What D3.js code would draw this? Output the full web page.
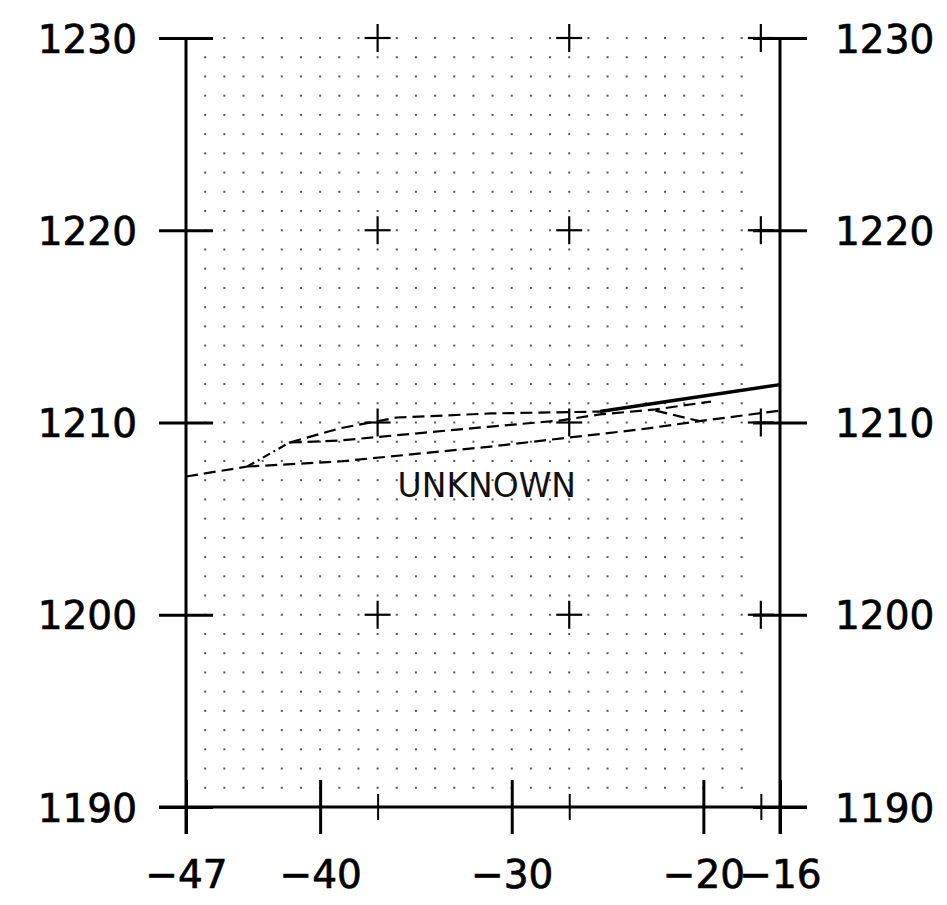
<!DOCTYPE html>
<html>
<head>
<meta charset="utf-8">
<script src="https://cdn.jsdelivr.net/npm/d3@7"></script>
<style>
  body { margin: 0; background: #fff; }
  svg { display: block; }
</style>
</head>
<body>
<div id="chart"></div>
<script>
// axis ticks
const xTicksMajor = [-47, -40, -30, -20, -16];
const xTicksMinor = [-37, -27, -17];
const yTicks = [1190, 1200, 1210, 1220, 1230];

// "+" marks inside the plot
const crossX = [-37, -27, -17];
const crossY = [1200, 1210, 1220, 1230];

// dot grid
const dotX = d3.range(-46, -17);
const dotY = d3.range(1191, 1231);

// horizon traces [x, y]
const solidLine = [[-25.4, 1210.57], [-16, 1211.97]];
const upperLine = [[-41.6, 1208.96], [-39.0, 1209.69], [-36.0, 1210.26], [-31.1, 1210.47], [-25.4, 1210.57]];
const middleLine = [[-41.6, 1208.96], [-39.0, 1209.06], [-31.1, 1209.79], [-27.5, 1210.10], [-25.4, 1210.42], [-22.5, 1210.68], [-19.6, 1211.09]];
const branchLine = [[-22.5, 1210.62], [-20.2, 1210.07]];
const lowerLine = [[-43.8, 1207.71], [-39.0, 1207.97], [-31.1, 1208.75], [-23.3, 1209.64], [-20.2, 1210.07], [-16, 1210.62]];
const leftLine = [[-47, 1207.19], [-43.8, 1207.71]];
const dashDotLine = [[-43.8, 1207.71], [-41.6, 1208.96]];

const labelText = 'UNKNOWN';
const labelPos = [-31.3, 1206.15];

const width = 947, height = 905;
const svg = d3.select('#chart').append('svg')
    .attr('width', width)
    .attr('height', height);

const x = d3.scaleLinear().domain([-47, -16]).range([186, 780]);
const y = d3.scaleLinear().domain([1190, 1230]).range([807, 38]);

const font = 'DejaVu Sans, sans-serif';

// dot grid
const dots = [];
dotX.forEach(dx => dotY.forEach(dy => dots.push([dx, dy])));
svg.append('g')
    .selectAll('rect')
    .data(dots)
    .join('rect')
    .attr('x', d => x(d[0]) - 1)
    .attr('y', d => y(d[1]) - 1)
    .attr('width', 2)
    .attr('height', 2)
    .attr('fill', '#555');

// crosses
const crosses = [];
crossX.forEach(cx => crossY.forEach(cy => crosses.push([cx, cy])));
const cg = svg.append('g').attr('stroke', '#000').attr('stroke-width', 2.2);
cg.selectAll('line.h')
    .data(crosses)
    .join('line')
    .attr('class', 'h')
    .attr('x1', d => x(d[0]) - 13).attr('x2', d => x(d[0]) + 13)
    .attr('y1', d => y(d[1])).attr('y2', d => y(d[1]));
cg.selectAll('line.v')
    .data(crosses)
    .join('line')
    .attr('class', 'v')
    .attr('x1', d => x(d[0])).attr('x2', d => x(d[0]))
    .attr('y1', d => y(d[1]) - 14).attr('y2', d => y(d[1]) + 14);

// traces
const line = d3.line().x(d => x(d[0])).y(d => y(d[1]));
const traces = svg.append('g').attr('fill', 'none').attr('stroke', '#000');
[upperLine, middleLine, branchLine, lowerLine, leftLine].forEach(pts => {
    traces.append('path')
        .attr('d', line(pts))
        .attr('stroke-width', 2.2)
        .attr('stroke-dasharray', '12,6');
});
traces.append('path')
    .attr('d', line(dashDotLine))
    .attr('stroke-width', 2.2)
    .attr('stroke-dasharray', '8,4,2,4');
traces.append('path')
    .attr('d', line(solidLine))
    .attr('stroke-width', 3.5);

// label
svg.append('text')
    .attr('x', x(labelPos[0]))
    .attr('y', y(labelPos[1]))
    .attr('text-anchor', 'middle')
    .attr('font-family', font)
    .attr('font-size', 33)
    .attr('fill', '#111')
    .text(labelText);

// axes
function styleAxis(g) {
    g.select('.domain').remove();
    g.selectAll('text')
        .attr('font-family', font)
        .attr('font-size', 39)
        .attr('fill', '#000')
        .attr('stroke', '#000')
        .attr('stroke-width', 0.7);
    g.selectAll('.tick line')
        .attr('stroke', '#000')
        .attr('stroke-width', 3);
}

const yLeft = svg.append('g')
    .attr('transform', `translate(${x(-47)},0)`)
    .call(d3.axisLeft(y).tickValues(yTicks).tickSize(27).tickPadding(22).tickFormat(d3.format('d')));
styleAxis(yLeft);
yLeft.selectAll('.tick line').attr('x1', 27);
yLeft.selectAll('text').attr('dy', '0.36em');

const yRight = svg.append('g')
    .attr('transform', `translate(${x(-16)},0)`)
    .call(d3.axisRight(y).tickValues(yTicks).tickSize(27).tickPadding(28).tickFormat(d3.format('d')));
styleAxis(yRight);
yRight.selectAll('.tick line').attr('x1', -27);
yRight.selectAll('text').attr('dy', '0.36em');

const xAxis = svg.append('g')
    .attr('transform', `translate(0,${y(1190)})`)
    .call(d3.axisBottom(x).tickValues(xTicksMajor).tickSize(27).tickFormat(d3.format('d')));
styleAxis(xAxis);
xAxis.selectAll('.tick line').attr('y1', -27);
xAxis.selectAll('text').attr('y', 81).attr('dy', 0);

const xMinor = svg.append('g')
    .attr('transform', `translate(0,${y(1190)})`)
    .call(d3.axisBottom(x).tickValues(xTicksMinor).tickSize(13).tickFormat(''));
xMinor.select('.domain').remove();
xMinor.selectAll('.tick line')
    .attr('y1', -13)
    .attr('stroke', '#000')
    .attr('stroke-width', 2);

// axis frame lines
const frame = svg.append('g').attr('stroke', '#000').attr('stroke-width', 3);
frame.append('line')
    .attr('x1', x(-47)).attr('x2', x(-47))
    .attr('y1', y(1230)).attr('y2', y(1190) + 27);
frame.append('line')
    .attr('x1', x(-16)).attr('x2', x(-16))
    .attr('y1', y(1230)).attr('y2', y(1190) + 27);
frame.append('line')
    .attr('x1', x(-47) - 27).attr('x2', x(-16) + 27)
    .attr('y1', y(1190)).attr('y2', y(1190));
</script>
</body>
</html>
